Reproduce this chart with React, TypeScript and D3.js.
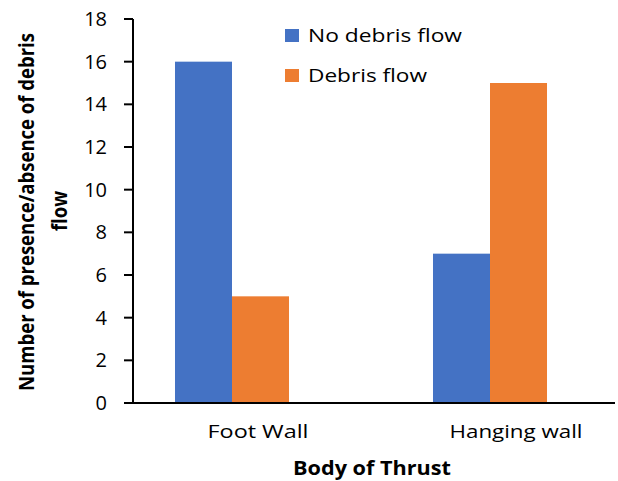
import React, { useLayoutEffect, useRef, useState } from "react";
import * as d3 from "d3";

const categories = ["Foot Wall", "Hanging wall"];
const seriesNames = ["No debris flow", "Debris flow"];
const noDebris = [16, 7];
const debris = [5, 15];
const yTicks = [0, 2, 4, 6, 8, 10, 12, 14, 16, 18];
const colors = ["#4472C4", "#ED7D31"];
const xLabelWidths = [101, 133];
const legendWidths = [154, 119];
const yTitle = ["Number of presence/absence of debris", "flow"];

export default function App() {
  const W = 618, H = 481;
  const axisX = 133, axisRight = 615;
  const y = d3.scaleLinear().domain([0, 18]).range([403, 19]);
  const x0 = d3.scaleBand<string>().domain(categories).range([103, 619]).padding(0);
  const x1 = d3.scaleBand<string>().domain(seriesNames).range([0, x0.bandwidth()]).paddingInner(0).paddingOuter(1.263);
  const values = [noDebris, debris];
  const font = "'Open Sans', sans-serif";
  const t1 = useRef<SVGTextElement>(null);
  const [sx, setSx] = useState(1);
  useLayoutEffect(() => {
    if (t1.current) {
      const len = t1.current.getComputedTextLength();
      if (len > 0) setSx(358 / len);
    }
  }, []);
  return (
    <svg width={W} height={H} style={{ position: "absolute", left: 0, top: 0, background: "#fff" }}>
      <rect width={W} height={H} fill="#fff" />
      {categories.map((c, ci) =>
        seriesNames.map((s, si) => (
          <rect key={c + s} x={x0(c)! + x1(s)!} width={x1.bandwidth()} y={y(values[si][ci])} height={y(0) - y(values[si][ci])} fill={colors[si]} />
        ))
      )}
      {/* y axis */}
      <line x1={axisX} x2={axisX} y1={y(18)} y2={y(0)} stroke="#000" strokeWidth={2} />
      {yTicks.map((t) => (
        <g key={t}>
          <line x1={axisX - 9} x2={axisX} y1={y(t)} y2={y(t)} stroke="#000" strokeWidth={2} />
          <text x={107} y={y(t)} dy="0.35em" textAnchor="end" fontFamily={font} fontSize={20} fill="#000">{t}</text>
        </g>
      ))}
      {/* x axis */}
      <line x1={axisX} x2={axisRight} y1={y(0)} y2={y(0)} stroke="#000" strokeWidth={2} />
      {categories.map((c, ci) => (
        <text key={c} x={x0(c)! + x0.bandwidth() / 2 + 26} y={438} textAnchor="middle" fontFamily={font} fontSize={18.5} fill="#000" textLength={xLabelWidths[ci]} lengthAdjust="spacingAndGlyphs">{c}</text>
      ))}
      <text x={372} y={475} textAnchor="middle" fontFamily={font} fontWeight="bold" fontSize={20} fill="#000" textLength={158} lengthAdjust="spacingAndGlyphs">Body of Thrust</text>
      {/* y title */}
      <g transform={`translate(34,212) rotate(-90) scale(${sx},1)`}>
        <text ref={t1} x={0} y={0} textAnchor="middle" fontFamily={font} fontWeight="bold" fontSize={21} fill="#000">{yTitle[0]}</text>
      </g>
      <g transform={`translate(67,211) rotate(-90) scale(${sx},1)`}>
        <text x={0} y={0} textAnchor="middle" fontFamily={font} fontWeight="bold" fontSize={21} fill="#000">{yTitle[1]}</text>
      </g>
      {/* legend */}
      {seriesNames.map((s, i) => (
        <g key={s} transform={`translate(285, ${29 + i * 40})`}>
          <rect x={0} y={0} width={14} height={13} fill={colors[i]} />
          <text x={23} y={13} fontFamily={font} fontSize={18.5} fill="#000" textLength={legendWidths[i]} lengthAdjust="spacingAndGlyphs">{s}</text>
        </g>
      ))}
    </svg>
  );
}
